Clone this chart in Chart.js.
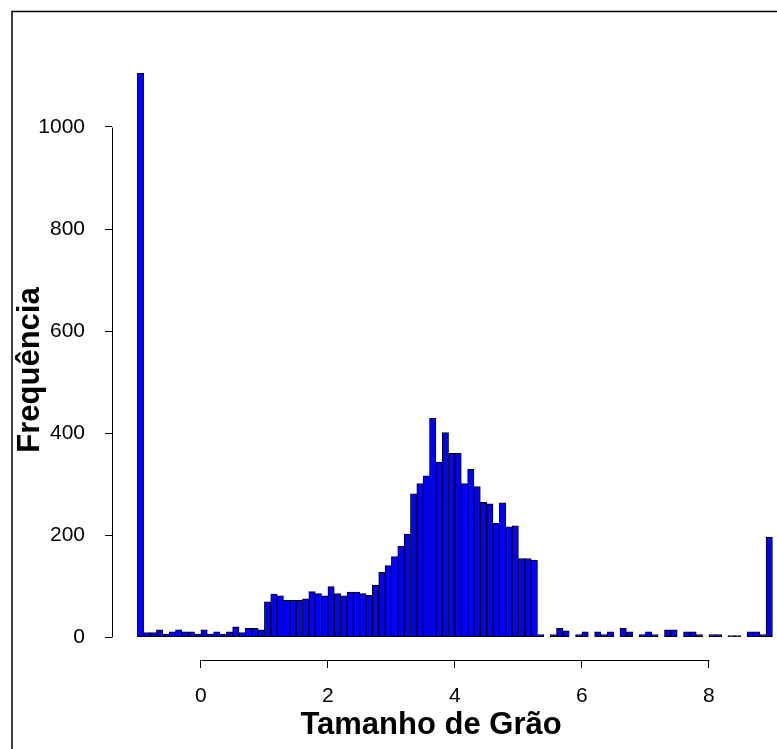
<!DOCTYPE html>
<html lang="pt-br">
<head>
  <meta charset="UTF-8">
  <title>Histograma - Tamanho de Grão</title>
  <script src="https://cdn.jsdelivr.net/npm/chart.js"></script>
  <style>
    body { margin: 0; background: #fff; overflow: hidden; }
  </style>
</head>
<body>
  <canvas id="histograma" width="777" height="749"></canvas>

<script>
// Classes do histograma: começam em -1 e têm largura 0.1
var inicioClasse = -1;
var larguraClasse = 0.1;

// Frequência de cada classe
var frequencias = [
  1105, 9, 9, 14, 6, 10, 14, 10, 10, 6, 14, 6, 10, 6, 10, 20, 9, 17, 17, 14,
  69, 84, 81, 72, 72, 72, 75, 89, 85, 81, 99, 85, 81, 88, 88, 85, 82, 102, 127, 140,
  158, 178, 202, 281, 301, 316, 429, 343, 401, 360, 360, 301, 329, 295, 264, 261, 223, 263, 216, 218,
  154, 154, 151, 5, 0, 5, 17, 12, 0, 5, 10, 0, 10, 5, 10, 0, 17, 10, 0, 5,
  10, 5, 0, 14, 14, 0, 10, 10, 5, 0, 5, 5, 0, 3, 3, 0, 10, 10, 5, 196
];

// Marcas dos eixos
var ticksX = [0, 2, 4, 6, 8];
var ticksY = [0, 200, 400, 600, 800, 1000];

// Títulos dos eixos
var tituloX = 'Tamanho de Grão';
var tituloY = 'Frequência';

var fonte = 'Liberation Sans, Arial, sans-serif';

// Montando os pontos (centro de cada classe)
var pontos = [];
for (var i = 0; i < frequencias.length; i++) {
  pontos.push({ x: inicioClasse + larguraClasse * (i + 0.5), y: frequencias[i] });
}

// Plugin para desenhar a moldura, as linhas dos eixos e os títulos no estilo do R
var eixosR = {
  id: 'eixosR',
  beforeDraw: function(chart) {
    var ctx = chart.ctx;
    ctx.save();
    ctx.fillStyle = '#fff';
    ctx.fillRect(0, 0, chart.width, chart.height);
    ctx.strokeStyle = '#000';
    ctx.lineWidth = 1.5;
    ctx.strokeRect(12, 11.5, chart.width + 50, chart.height + 50);
    ctx.restore();
  },
  afterDraw: function(chart) {
    var ctx = chart.ctx;
    var sx = chart.scales.x;
    var sy = chart.scales.y;
    var area = chart.chartArea;
    ctx.save();
    ctx.strokeStyle = '#000';
    ctx.lineWidth = 1;
    ctx.beginPath();
    // eixo y: só entre a primeira e a última marca
    var xl = Math.round(area.left) + 0.5;
    ctx.moveTo(xl, Math.round(sy.getPixelForValue(ticksY[0])) + 0.5);
    ctx.lineTo(xl, Math.round(sy.getPixelForValue(ticksY[ticksY.length - 1])) + 0.5);
    // eixo x
    var yb = Math.round(area.bottom) + 0.5;
    ctx.moveTo(Math.round(sx.getPixelForValue(ticksX[0])) + 0.5, yb);
    ctx.lineTo(Math.round(sx.getPixelForValue(ticksX[ticksX.length - 1])) + 0.5, yb);
    ctx.stroke();

    // títulos
    ctx.fillStyle = '#000';
    ctx.font = 'bold 31px ' + fonte;
    ctx.textAlign = 'center';
    ctx.textBaseline = 'middle';
    ctx.fillText(tituloX, 431, 725);
    ctx.translate(30, 370);
    ctx.rotate(-Math.PI / 2);
    ctx.fillText(tituloY, 0, 0);
    ctx.restore();
  }
};

var ctx = document.getElementById('histograma').getContext('2d');
var myChart = new Chart(ctx, {
  type: 'bar',
  data: {
    datasets: [{
      label: 'Frequência',
      data: pontos,
      backgroundColor: '#0000ff',
      borderColor: '#000000',
      borderWidth: 1,
      borderSkipped: false,
      barPercentage: 1.0,
      categoryPercentage: 1.0
    }]
  },
  options: {
    responsive: false,
    animation: false,
    devicePixelRatio: 1,
    layout: { padding: { top: 51, right: 0, left: 0, bottom: 0 } },
    plugins: {
      legend: { display: false },
      tooltip: { enabled: false }
    },
    scales: {
      x: {
        type: 'linear',
        offset: false,
        min: -1.4,
        max: 9.072,
        afterBuildTicks: function(scale) {
          scale.ticks = ticksX.map(function(v) { return { value: v }; });
        },
        afterFit: function(scale) { scale.height = 89; },
        border: { display: false },
        grid: { offset: false, drawOnChartArea: false, drawTicks: true, tickLength: 8, color: '#000' },
        ticks: {
          color: '#000', font: { family: fonte, size: 21 }, padding: 16, maxRotation: 0,
          callback: function(v) { return String(v); }
        }
      },
      y: {
        type: 'linear',
        min: -45,
        max: 1149,
        afterBuildTicks: function(scale) {
          scale.ticks = ticksY.map(function(v) { return { value: v }; });
        },
        afterFit: function(scale) { scale.width = 112; },
        border: { display: false },
        grid: { drawOnChartArea: false, drawTicks: true, tickLength: 7, color: '#000' },
        ticks: {
          color: '#000', font: { family: fonte, size: 21 }, padding: 20,
          callback: function(v) { return String(v); }
        }
      }
    }
  },
  plugins: [eixosR]
});
</script>
</body>
</html>
